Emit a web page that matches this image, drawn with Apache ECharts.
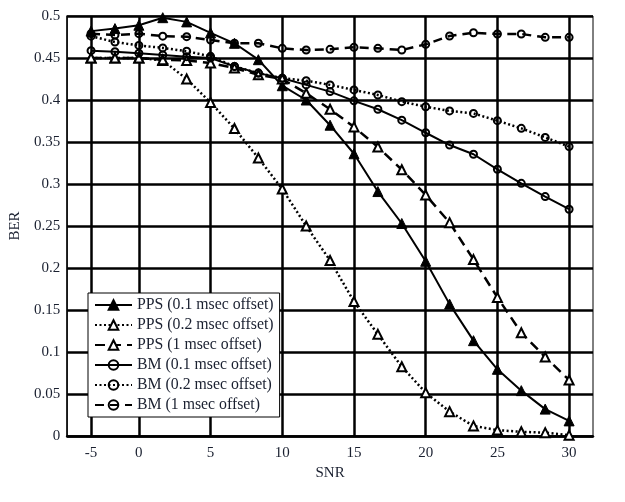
<!DOCTYPE html>
<html><head><meta charset="utf-8">
<script src="https://cdn.jsdelivr.net/npm/echarts@6/dist/echarts.min.js"></script>
<style>html,body{margin:0;padding:0;background:#fff}#c{width:625px;height:502px}</style>
</head><body><div id="c"></div>
<script>
// SNR categories (the original is a category-style line chart)
const snr = ['-5','-2.5','0','1.67','3.33','5','6.67','8.33','10','11.67','13.33','15','16.67','18.33','20','21.67','23.33','25','26.67','28.33','30'];
const xTickLabels = ['-5','0','5','10','15','20','25','30'];
const yTickLabels = ['0','0.05','0.1','0.15','0.2','0.25','0.3','0.35','0.4','0.45','0.5'];
const seriesNames = ['PPS (0.1 msec offset)','PPS (0.2 msec offset)','PPS (1 msec offset)','BM (0.1 msec offset)','BM (0.2 msec offset)','BM (1 msec offset)'];

const pps01 = [0.482,0.485,0.489,0.498,0.493,0.480,0.4675,0.448,0.417,0.400,0.370,0.336,0.291,0.253,0.208,0.157,0.1135,0.0794,0.054,0.032,0.018];
const pps02 = [0.450,0.450,0.450,0.447,0.425,0.397,0.366,0.331,0.294,0.250,0.209,0.160,0.121,0.0825,0.0516,0.029,0.012,0.007,0.005,0.004,0.001];
const pps1  = [0.450,0.450,0.450,0.448,0.447,0.444,0.438,0.430,0.425,0.408,0.389,0.368,0.344,0.317,0.287,0.254,0.210,0.165,0.123,0.094,0.0667];
const bm01  = [0.4587,0.4575,0.4556,0.4536,0.4516,0.450,0.440,0.432,0.4258,0.418,0.410,0.399,0.389,0.376,0.361,0.3464,0.3354,0.3175,0.3008,0.285,0.270];
const bm02  = [0.476,0.469,0.465,0.462,0.458,0.452,0.440,0.432,0.426,0.423,0.418,0.412,0.406,0.398,0.392,0.387,0.384,0.3754,0.3663,0.3555,0.3445];
const bm1   = [0.479,0.4774,0.479,0.476,0.4754,0.4714,0.4675,0.4675,0.4615,0.4595,0.4603,0.4627,0.4615,0.4595,0.4663,0.4762,0.480,0.4786,0.4786,0.4746,0.4746];

const FONT = "'Liberation Serif','Times New Roman',serif";
const TXT = '#1a2030';
const axisCats = [''].concat(snr, [' ']);
const pad = arr => ['-'].concat(arr, ['-']);
const showTick = (idx, name) => xTickLabels.indexOf(name) >= 0;

const styles = [
  {data: pps01, symbol: 'triangle', size: 10, fill: '#000', bw: 1, type: 'solid', lw: 2},
  {data: pps02, symbol: 'triangle', size: 9, fill: '#fff', bw: 2, type: [2, 2.5], lw: 2.5},
  {data: pps1,  symbol: 'triangle', size: 9, fill: '#fff', bw: 2, type: [10, 6], lw: 2.5},
  {data: bm01,  symbol: 'circle', size: 7, fill: 'rgba(255,255,255,0)', bw: 2, type: 'solid', lw: 2},
  {data: bm02,  symbol: 'circle', size: 7, fill: 'rgba(255,255,255,0)', bw: 2, type: [2, 2.5], lw: 2.5},
  {data: bm1,   symbol: 'circle', size: 7, fill: 'rgba(255,255,255,0)', bw: 2, type: [9, 6], lw: 2.5}
];

const series = styles.map((s, k) => ({
  name: seriesNames[k],
  type: 'line',
  data: pad(s.data),
  symbol: s.symbol,
  symbolSize: s.size,
  showSymbol: true,
  showAllSymbol: true,
  connectNulls: false,
  lineStyle: {color: '#000', width: s.lw, type: s.type},
  itemStyle: {color: s.fill, borderColor: '#000', borderWidth: s.bw},
  emphasis: {disabled: true}
}));

const chart = echarts.init(document.getElementById('c'), null, {renderer: 'canvas'});
chart.setOption({
  animation: false,
  backgroundColor: '#fff',
  grid: {left: 62, right: 32, top: 16, bottom: 66, show: true, borderColor: '#000', borderWidth: 1, backgroundColor: 'transparent'},
  legend: {
    orient: 'vertical', left: 88, top: 293,
    backgroundColor: '#fff', borderColor: '#000', borderWidth: 1,
    padding: [4, 6, 4, 6], itemGap: 4, itemWidth: 37, itemHeight: 12,
    textStyle: {fontFamily: FONT, fontSize: 15.8, color: TXT, lineHeight: 15},
    data: seriesNames
  },
  xAxis: {
    type: 'category', data: axisCats, boundaryGap: false,
    name: 'SNR', nameLocation: 'middle', nameGap: 27,
    nameTextStyle: {fontFamily: FONT, fontSize: 15, color: TXT},
    axisLine: {show: true, lineStyle: {color: '#000', width: 2.5}},
    axisTick: {show: false},
    axisLabel: {interval: showTick, fontFamily: FONT, fontSize: 15, color: TXT, margin: 10},
    splitLine: {show: true, interval: showTick, lineStyle: {color: '#000', width: 2.5}}
  },
  yAxis: {
    type: 'value', min: 0, max: 0.5, interval: 0.05,
    name: 'BER', nameLocation: 'middle', nameGap: 42, nameRotate: 90,
    nameTextStyle: {fontFamily: FONT, fontSize: 15, color: TXT},
    axisLine: {show: true, lineStyle: {color: '#000', width: 1.5}},
    axisTick: {show: false},
    axisLabel: {fontFamily: FONT, fontSize: 15, color: TXT, margin: 7,
      formatter: v => yTickLabels[Math.round(v / 0.05)]},
    splitLine: {show: true, lineStyle: {color: '#000', width: 2.5}}
  },
  series: series
});
</script></body></html>
